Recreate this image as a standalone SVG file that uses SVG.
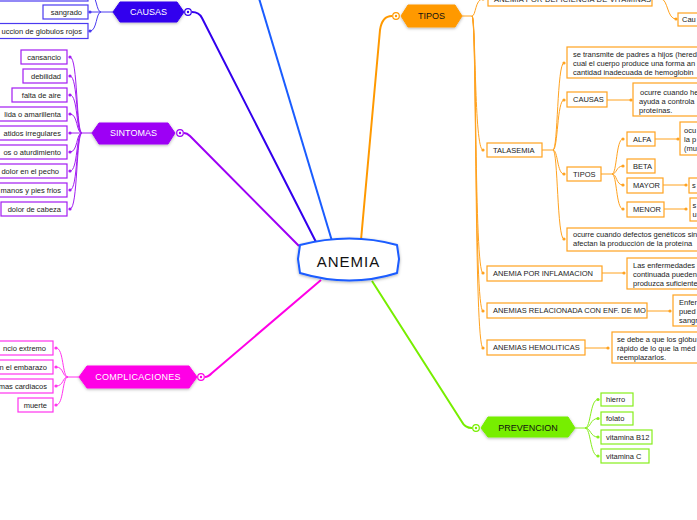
<svg xmlns="http://www.w3.org/2000/svg" width="697" height="520" viewBox="0 0 697 520">
<style>
text{font-family:"Liberation Sans",Arial,sans-serif;}
.t{font-size:7.5px;fill:#222;}
.e{text-anchor:end;}
.lbl{font-size:9px;text-anchor:middle;}
.bx{fill:#fff;stroke-width:1.2;}
.ind{stroke:#4a3af0;}
.pur{stroke:#a21cf2;}
.mag{stroke:#ff33ee;}
.org{stroke:#ffa21f;}
.grn{stroke:#86ee1c;}
.ln{fill:none;stroke-width:1;}
.main{fill:none;stroke-width:2;}
</style>
<defs>
<filter id="sh" x="-20%" y="-30%" width="140%" height="160%">
<feDropShadow dx="0" dy="1" stdDeviation="1.5" flood-color="#000" flood-opacity="0.3"/>
</filter>
</defs>

<g id="connectors">
<path class="main" stroke="#1a5cff" d="M332,241 L258,-5"/>
<path class="main" stroke="#3300ee" d="M316,242 L202,18 Q199,12 192,12"/>
<path class="main" stroke="#9d00f5" d="M299,246 L190,136 Q187,133 184,133"/>
<path class="main" stroke="#ff00e6" d="M321,280 L212,373 Q208,377 205,377"/>
<path class="main" stroke="#ff9900" d="M361,240 L380,30 Q382,16 392,16"/>
<path class="main" stroke="#77ee00" d="M372,281 L462,422 Q465,428 472,428"/>

<g stroke="#4a3af0" fill="#4a3af0">
<path class="ln" stroke-width="1.3" d="M113,12 L101,12"/>
<path class="ln" d="M101,12 C96,12 97,-6 90,-6"/>
<path class="ln" d="M101,12 L90,12"/>
<path class="ln" d="M101,12 C96,12 97,31 90,31"/>
<circle cx="90" cy="12" r="1.6" stroke="none"/>
<circle cx="90" cy="31" r="1.6" stroke="none"/>
</g>

<g stroke="#a21cf2" fill="#a21cf2">
<path class="ln" stroke-width="1.3" d="M92,133 L82,133"/>
<path class="ln" d="M82,133 C76,133 78,57 70,57"/>
<path class="ln" d="M82,133 C76,133 78,76 70,76"/>
<path class="ln" d="M82,133 C76,133 78,95 70,95"/>
<path class="ln" d="M82,133 C76,133 78,114 70,114"/>
<path class="ln" d="M82,133 L70,133"/>
<path class="ln" d="M82,133 C76,133 78,152 70,152"/>
<path class="ln" d="M82,133 C76,133 78,171 70,171"/>
<path class="ln" d="M82,133 C76,133 78,190 70,190"/>
<path class="ln" d="M82,133 C76,133 78,209 70,209"/>
<g stroke="none">
<circle cx="70" cy="57" r="1.6"/><circle cx="70" cy="76" r="1.6"/><circle cx="70" cy="95" r="1.6"/>
<circle cx="70" cy="114" r="1.6"/><circle cx="70" cy="133" r="1.6"/><circle cx="70" cy="152" r="1.6"/>
<circle cx="70" cy="171" r="1.6"/><circle cx="70" cy="190" r="1.6"/><circle cx="70" cy="209" r="1.6"/>
</g>
</g>

<g stroke="#ff33ee" fill="#ff33ee">
<path class="ln" stroke-width="1.3" d="M79,377 L68,377"/>
<path class="ln" d="M68,377 C62,377 64,348 56,348"/>
<path class="ln" d="M68,377 C62,377 64,367 56,367"/>
<path class="ln" d="M68,377 C62,377 64,386 56,386"/>
<path class="ln" d="M68,377 C62,377 64,405 56,405"/>
<g stroke="none">
<circle cx="56" cy="348" r="1.6"/><circle cx="56" cy="367" r="1.6"/><circle cx="56" cy="386" r="1.6"/><circle cx="56" cy="405" r="1.6"/>
</g>
</g>

<g stroke="#ffa21f" fill="#ffa21f">
<path class="ln" stroke-width="1.6" d="M462,16 L472,16"/>
<path class="ln" d="M472,16 C476,16 475,-1 483,-1"/>
<path class="ln" d="M472,16 C476,16 474,150 483,150"/>
<path class="ln" d="M472,16 C477,16 474,273 483,273"/>
<path class="ln" d="M472,16 C477,16 474,311 483,311"/>
<path class="ln" d="M472,16 C477,16 474,348 483,348"/>
<path class="ln" d="M652,-1 L661,-1 C668,-1 667,19 676,19"/>
<path class="ln" stroke-width="1.6" d="M542,150 L553,150"/>
<path class="ln" d="M553,150 C558,150 557,63 564,63"/>
<path class="ln" d="M553,150 C558,150 557,100 564,100"/>
<path class="ln" d="M553,150 C558,150 557,174 564,174"/>
<path class="ln" d="M553,150 C558,150 557,239 564,239"/>
<path class="ln" d="M607,100 L631,100"/>
<path class="ln" stroke-width="1.6" d="M601,174 L612,174"/>
<path class="ln" d="M612,174 C617,174 616,139 623,139"/>
<path class="ln" d="M612,174 C617,174 616,166 623,166"/>
<path class="ln" d="M612,174 C617,174 616,185 623,185"/>
<path class="ln" d="M612,174 C617,174 616,209 623,209"/>
<path class="ln" d="M655,139 L678,139"/>
<path class="ln" d="M663,185 L686,185"/>
<path class="ln" d="M664,209 L686,209"/>
<path class="ln" d="M602,273 L624,273"/>
<path class="ln" d="M647,311 L670,311"/>
<path class="ln" d="M585,348 L608,348"/>
<g stroke="none">
<circle cx="483" cy="-1" r="1.6"/><circle cx="483" cy="150" r="1.6"/><circle cx="483" cy="273" r="1.6"/>
<circle cx="483" cy="311" r="1.6"/><circle cx="483" cy="348" r="1.6"/><circle cx="676" cy="19" r="1.6"/>
<circle cx="564" cy="63" r="1.6"/><circle cx="564" cy="100" r="1.6"/><circle cx="564" cy="174" r="1.6"/>
<circle cx="564" cy="239" r="1.6"/><circle cx="631" cy="100" r="1.6"/>
<circle cx="623" cy="139" r="1.6"/><circle cx="623" cy="166" r="1.6"/><circle cx="623" cy="185" r="1.6"/>
<circle cx="623" cy="209" r="1.6"/><circle cx="678" cy="139" r="1.6"/><circle cx="686" cy="185" r="1.6"/>
<circle cx="686" cy="209" r="1.6"/><circle cx="624" cy="273" r="1.6"/><circle cx="670" cy="311" r="1.6"/>
<circle cx="608" cy="348" r="1.6"/>
</g>
</g>

<g stroke="#86ee1c" fill="#86ee1c">
<path class="ln" stroke-width="1.3" d="M575,428 L585,428"/>
<path class="ln" d="M585,428 C591,428 590,399.5 598,399.5"/>
<path class="ln" d="M585,428 C591,428 590,418.5 598,418.5"/>
<path class="ln" d="M585,428 C591,428 590,437 598,437"/>
<path class="ln" d="M585,428 C591,428 590,456 598,456"/>
<g stroke="none">
<circle cx="598" cy="399.5" r="1.6"/><circle cx="598" cy="418.5" r="1.6"/><circle cx="598" cy="437" r="1.6"/><circle cx="598" cy="456" r="1.6"/>
</g>
</g>
</g>

<g id="anemia">
<path d="M300,245 Q350,232 397,245 L399,259 L397,273 Q350,288 300,273 L298,259 Z" fill="#fff" stroke="#1a5cff" stroke-width="2" stroke-linejoin="round" filter="url(#sh)"/>
<text x="348.5" y="266.5" font-size="15" text-anchor="middle" letter-spacing="1" fill="#111">ANEMIA</text>
</g>

<g id="causas">
<path d="M113,12 L120,2 L177,2 L184,12 L177,22 L120,22 Z" fill="#3300ee" stroke="#3300ee" stroke-linejoin="round" filter="url(#sh)"/>
<text class="lbl" x="148.5" y="15.3" fill="#fff">CAUSAS</text>
<circle cx="188" cy="12" r="3.3" fill="#fff" stroke="#3300ee" stroke-width="1.2"/>
<circle cx="188" cy="12" r="1.2" fill="#3300ee"/>
</g>
<g id="causas-top"><rect class="bx ind" x="-5" y="-14" width="93" height="15"/></g>
<g id="sangrado"><rect class="bx ind" x="43" y="5" width="45" height="14"/><text class="t e" x="82" y="14.6">sangrado</text></g>
<g id="globulos"><rect class="bx ind" x="-5" y="23.5" width="93" height="15"/><text class="t e" x="82" y="33.6">uccion de globulos rojos</text></g>

<g id="sintomas">
<path d="M92,133 L99,123 L168,123 L175,133 L168,144 L99,144 Z" fill="#9d00f5" stroke="#9d00f5" stroke-linejoin="round" filter="url(#sh)"/>
<text class="lbl" x="133.5" y="136.3" fill="#fff">SINTOMAS</text>
<circle cx="180" cy="133" r="3.3" fill="#fff" stroke="#9d00f5" stroke-width="1.2"/>
<circle cx="180" cy="133" r="1.2" fill="#9d00f5"/>
</g>
<g id="s1"><rect class="bx pur" x="21" y="50" width="46" height="14"/><text class="t e" x="61" y="59.6">cansancio</text></g>
<g id="s2"><rect class="bx pur" x="23" y="69" width="44" height="14"/><text class="t e" x="61" y="78.6">debilidad</text></g>
<g id="s3"><rect class="bx pur" x="12" y="88" width="55" height="14"/><text class="t e" x="61" y="97.6">falta de aire</text></g>
<g id="s4"><rect class="bx pur" x="-5" y="107" width="72" height="14"/><text class="t e" x="61" y="116.6">lida o amarillenta</text></g>
<g id="s5"><rect class="bx pur" x="-5" y="126" width="72" height="14"/><text class="t e" x="61" y="135.6">atidos irregulares</text></g>
<g id="s6"><rect class="bx pur" x="-5" y="145" width="72" height="14"/><text class="t e" x="61" y="154.6">os o aturdimiento</text></g>
<g id="s7"><rect class="bx pur" x="-5" y="164" width="72" height="14"/><text class="t e" x="59" y="173.6">dolor en el pecho</text></g>
<g id="s8"><rect class="bx pur" x="-5" y="183" width="72" height="14"/><text class="t e" x="61" y="192.6">manos y pies frios</text></g>
<g id="s9"><rect class="bx pur" x="1" y="202" width="66" height="14"/><text class="t e" x="61" y="211.6">dolor de cabeza</text></g>

<g id="complicaciones">
<path d="M79,377 L87,366 L189,366 L197,377 L189,388 L87,388 Z" fill="#ff00e6" stroke="#ff00e6" stroke-linejoin="round" filter="url(#sh)"/>
<text class="lbl" x="138" y="380.3" fill="#fff" letter-spacing="0.3">COMPLICACIONES</text>
<circle cx="201" cy="377" r="3.3" fill="#fff" stroke="#ff00e6" stroke-width="1.2"/>
<circle cx="201" cy="377" r="1.2" fill="#ff00e6"/>
</g>
<g id="c1"><rect class="bx mag" x="-5" y="341" width="58" height="14"/><text class="t e" x="46" y="350.6">ncio extremo</text></g>
<g id="c2"><rect class="bx mag" x="-5" y="360" width="58" height="14"/><text class="t e" x="47" y="369.6">n el embarazo</text></g>
<g id="c3"><rect class="bx mag" x="-5" y="379" width="58" height="14"/><text class="t e" x="47" y="388.6">mas cardiacos</text></g>
<g id="c4"><rect class="bx mag" x="18" y="398" width="35" height="14"/><text class="t e" x="47" y="407.6">muerte</text></g>

<g id="tipos">
<path d="M401,16 L408,5 L455,5 L462,16 L455,27 L408,27 Z" fill="#ff9900" stroke="#ff9900" stroke-linejoin="round" filter="url(#sh)"/>
<text class="lbl" x="431.5" y="19.3" fill="#111">TIPOS</text>
<circle cx="396" cy="16" r="3.3" fill="#fff" stroke="#ff9900" stroke-width="1.2"/>
<circle cx="396" cy="16" r="1.2" fill="#ff9900"/>
</g>
<g id="deficiencia"><rect class="bx org" x="488" y="-9" width="164" height="15"/><text class="t" x="494" y="2" letter-spacing="0.2">ANEMIA POR DEFICIENCIA DE VITAMINAS</text></g>
<g id="def-causas"><rect class="bx org" x="678" y="13" width="40" height="13"/><text class="t" x="682" y="22">Cau</text></g>
<g id="talasemia"><rect class="bx org" x="487" y="143" width="55" height="14"/><text class="t" x="493" y="152.6">TALASEMIA</text></g>
<g id="t-hered"><rect class="bx org" x="567" y="47" width="150" height="31"/>
<text class="t" x="573" y="56.6">se transmite de padres a hijos (hered</text>
<text class="t" x="573" y="65.6">cual el cuerpo produce una forma an</text>
<text class="t" x="573" y="74.6">cantidad inadecuada de hemoglobin</text></g>
<g id="t-causas"><rect class="bx org" x="567" y="92" width="40" height="15"/><text class="t" x="573" y="102">CAUSAS</text></g>
<g id="t-causas-txt"><rect class="bx org" x="633" y="83" width="80" height="33"/>
<text class="t" x="640" y="94.6">ocurre cuando he</text>
<text class="t" x="639" y="103.6">ayuda a controla</text>
<text class="t" x="639" y="112.6">proteínas.</text></g>
<g id="t-tipos"><rect class="bx org" x="567" y="167" width="34" height="14"/><text class="t" x="573" y="176.6">TIPOS</text></g>
<g id="alfa"><rect class="bx org" x="627" y="132" width="28" height="14"/><text class="t" x="633" y="141.6">ALFA</text></g>
<g id="alfa-txt"><rect class="bx org" x="680" y="122" width="40" height="33"/>
<text class="t" x="684" y="132.6">ocu</text><text class="t" x="684" y="141.6">la p</text><text class="t" x="684" y="150.6">(mu</text></g>
<g id="beta"><rect class="bx org" x="627" y="159" width="28" height="14"/><text class="t" x="633" y="168.6">BETA</text></g>
<g id="mayor"><rect class="bx org" x="627" y="178" width="36" height="15"/><text class="t" x="633" y="188">MAYOR</text></g>
<g id="mayor-txt"><rect class="bx org" x="689" y="178" width="30" height="15"/><text class="t" x="692" y="188">s</text></g>
<g id="menor"><rect class="bx org" x="627" y="202" width="37" height="15"/><text class="t" x="633" y="212">MENOR</text></g>
<g id="menor-txt"><rect class="bx org" x="690" y="198" width="30" height="23"/><text class="t" x="692.5" y="207.6">s</text><text class="t" x="692.5" y="216.6">u</text></g>
<g id="t-defectos"><rect class="bx org" x="567" y="228" width="150" height="23"/>
<text class="t" x="573" y="236.6">ocurre cuando defectos genéticos sin</text>
<text class="t" x="573" y="245.6">afectan la producción de la proteína</text></g>
<g id="inflamacion"><rect class="bx org" x="487" y="266" width="115" height="15"/><text class="t" x="493" y="276">ANEMIA POR INFLAMACION</text></g>
<g id="inflamacion-txt"><rect class="bx org" x="627" y="258" width="90" height="31"/>
<text class="t" x="633" y="267.6">Las enfermedades</text>
<text class="t" x="633" y="276.6">continuada pueden</text>
<text class="t" x="633" y="285.6">produzca suficiente</text></g>
<g id="enf-mo"><rect class="bx org" x="487" y="303" width="160" height="15"/><text class="t" x="493" y="313">ANEMIAS RELACIONADA CON ENF. DE MO</text></g>
<g id="enf-mo-txt"><rect class="bx org" x="673" y="295" width="40" height="31"/>
<text class="t" x="679" y="304.6">Enfer</text><text class="t" x="679" y="313.6">pued</text><text class="t" x="679" y="322.6">sangr</text></g>
<g id="hemoliticas"><rect class="bx org" x="487" y="340" width="98" height="15"/><text class="t" x="493" y="350">ANEMIAS HEMOLITICAS</text></g>
<g id="hemoliticas-txt"><rect class="bx org" x="612" y="332" width="100" height="31"/>
<text class="t" x="617" y="341.6">se debe a que los glóbu</text>
<text class="t" x="617" y="350.6">rápido de lo que la méd</text>
<text class="t" x="617" y="359.6">reemplazarlos.</text></g>

<g id="prevencion">
<path d="M481,428 L488,417 L568,417 L575,428 L568,437 L488,437 Z" fill="#77ee00" stroke="#77ee00" stroke-linejoin="round" filter="url(#sh)"/>
<text class="lbl" x="528" y="431.3" fill="#111">PREVENCION</text>
<circle cx="476" cy="428" r="3.3" fill="#fff" stroke="#77ee00" stroke-width="1.2"/>
<circle cx="476" cy="428" r="1.2" fill="#77ee00"/>
</g>
<g id="p1"><rect class="bx grn" x="601" y="393" width="32" height="13"/><text class="t" x="606" y="402">hierro</text></g>
<g id="p2"><rect class="bx grn" x="601" y="412" width="32" height="13"/><text class="t" x="606" y="421">folato</text></g>
<g id="p3"><rect class="bx grn" x="601" y="430" width="51" height="14"/><text class="t" x="606" y="439.6">vitamina B12</text></g>
<g id="p4"><rect class="bx grn" x="601" y="449" width="48" height="14"/><text class="t" x="606" y="458.6">vitamina C</text></g>
</svg>
